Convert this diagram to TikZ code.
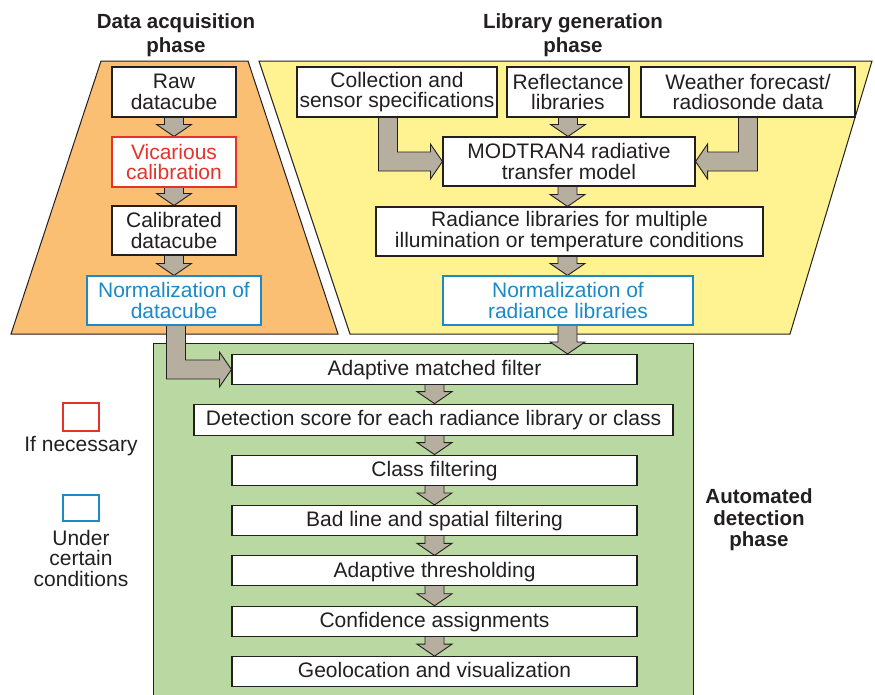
\documentclass[tikz,border=0pt]{standalone}
\usepackage{fontspec}
\setmainfont{Liberation Sans}
\usetikzlibrary{calc}

\pgfdeclarelayer{panels}
\pgfdeclarelayer{flows}
\pgfsetlayers{panels,flows,main}

\definecolor{ink}{HTML}{231F20}
\definecolor{acqfill}{HTML}{FABF72}
\definecolor{libfill}{HTML}{FEF390}
\definecolor{detfill}{HTML}{BAD8A2}
\definecolor{flowfill}{HTML}{B6AF9F}
\definecolor{optred}{HTML}{E4332A}
\definecolor{optblue}{HTML}{1B8AC6}

% fat arrow geometry: shaft half width, head half width, head length
\newcommand\ArrW{9.5pt}
\newcommand\ArrH{17.5pt}
\newcommand\ArrL{12pt}

% straight fat arrow pointing down, from #1 to the height of #2
\newcommand\ArrDown[2]{%
  \begin{pgfonlayer}{flows}
  \path[fat] let \p1=(#1), \p2=(#2) in
    (\x1-\ArrW,\y1+2pt) -- (\x1-\ArrW,\y2+\ArrL) -- (\x1-\ArrH,\y2+\ArrL) -- (\x1,\y2)
    -- (\x1+\ArrH,\y2+\ArrL) -- (\x1+\ArrW,\y2+\ArrL) -- (\x1+\ArrW,\y1+2pt) -- cycle;
  \end{pgfonlayer}}

% fat arrow going down from #1, then right to #2
\newcommand\ArrElbowR[2]{%
  \begin{pgfonlayer}{flows}
  \path[fat] let \p1=(#1), \p2=(#2) in
    (\x1-\ArrW,\y1+2pt) -- (\x1-\ArrW,\y2-\ArrW) -- (\x2-\ArrL,\y2-\ArrW) -- (\x2-\ArrL,\y2-\ArrH)
    -- (\x2,\y2) -- (\x2-\ArrL,\y2+\ArrH) -- (\x2-\ArrL,\y2+\ArrW) -- (\x1+\ArrW,\y2+\ArrW)
    -- (\x1+\ArrW,\y1+2pt) -- cycle;
  \end{pgfonlayer}}

% fat arrow going down from #1, then left to #2
\newcommand\ArrElbowL[2]{%
  \begin{pgfonlayer}{flows}
  \path[fat] let \p1=(#1), \p2=(#2) in
    (\x1+\ArrW,\y1+2pt) -- (\x1+\ArrW,\y2-\ArrW) -- (\x2+\ArrL,\y2-\ArrW) -- (\x2+\ArrL,\y2-\ArrH)
    -- (\x2,\y2) -- (\x2+\ArrL,\y2+\ArrH) -- (\x2+\ArrL,\y2+\ArrW) -- (\x1-\ArrW,\y2+\ArrW)
    -- (\x1-\ArrW,\y1+2pt) -- cycle;
  \end{pgfonlayer}}

\tikzset{
  fat/.style={fill=flowfill, draw=ink, line width=0.9pt, line join=miter},
  panel/.style={draw=ink, line width=1pt},
  box/.style={draw=ink, line width=1.1pt, fill=white, inner sep=0pt, align=center,
    text=ink, font=\fontsize{21}{20.5}\selectfont},
  bigbox/.style={box, minimum height=49pt},
  slimbox/.style={box, minimum height=30pt, text height=17pt, text depth=4.5pt},
  redbox/.style={draw=optred, text=optred},
  bluebox/.style={draw=optblue, text=optblue},
  phasehead/.style={align=center, text=ink, inner sep=0pt,
    font=\bfseries\fontsize{20.5}{24}\selectfont},
  legendtext/.style={align=center, text=ink, inner sep=0pt,
    font=\fontsize{21}{20.5}\selectfont},
  legendkey/.style={line width=1.1pt, fill=white}
}

\begin{document}
\begin{tikzpicture}[x=1pt,y=1pt]
\useasboundingbox (0,0) rectangle (875,-694);

% ---- phase panels ----
\begin{pgfonlayer}{panels}
  \path[panel, fill=acqfill] (101,-61) -- (248,-61) -- (338,-334) -- (11,-334) -- cycle;
  \path[panel, fill=libfill] (259,-61) -- (872,-61) -- (790,-334) -- (350,-334) -- cycle;
  \path[panel, fill=detfill] (153,-700) -- (153,-343) -- (693,-343) -- (693,-700);
\end{pgfonlayer}

% ---- phase titles ----
\node[phasehead] (hacq) at (176,-35) {Data acquisition\\phase};
\node[phasehead] (hlib) at (573,-35) {Library generation\\phase};
\node[phasehead, font=\bfseries\fontsize{20.5}{21.5}\selectfont] (hdet) at (759,-520)
  {Automated\\detection\\phase};

% ---- data acquisition ----
\node[bigbox, minimum width=124pt, minimum height=50pt] (raw) at (174,-92) {Raw\\datacube};
\node[bigbox, redbox, minimum width=124pt, minimum height=50pt] (vic) at (174,-162) {Vicarious\\calibration};
\node[bigbox, minimum width=124pt] (cal) at (174,-230.5) {Calibrated\\datacube};
\node[bigbox, bluebox, minimum width=174pt] (normd) at (174,-300.5) {Normalization of\\datacube};

% ---- library generation ----
\node[bigbox, minimum width=200pt, minimum height=50pt] (coll) at (397,-92) {Collection and\\sensor specifications};
\node[bigbox, minimum width=122pt, minimum height=50pt] (refl) at (568,-92) {Reflectance\\libraries};
\node[bigbox, minimum width=214pt, minimum height=50pt] (wx) at (748,-92) {Weather forecast/\\radiosonde data};
\node[bigbox, minimum width=252pt] (mod) at (569,-161.5) {MODTRAN4 radiative\\transfer model};
\node[bigbox, minimum width=387pt] (radl) at (569.5,-231.5) {Radiance libraries for multiple\\illumination or temperature conditions};
\node[bigbox, bluebox, minimum width=250pt] (normr) at (568,-300.5) {Normalization of\\radiance libraries};

% ---- automated detection ----
\node[slimbox, minimum width=405pt] (amf) at (434.5,-369.5) {Adaptive matched filter};
\node[slimbox, minimum width=479pt, minimum height=31pt] (det) at (433.5,-419.7) {Detection score for each radiance library or class};
\node[slimbox, minimum width=405pt] (cls) at (434.5,-470.1) {Class filtering};
\node[slimbox, minimum width=405pt] (bad) at (434.5,-520.5) {Bad line and spatial filtering};
\node[slimbox, minimum width=405pt] (thr) at (434.5,-570.9) {Adaptive thresholding};
\node[slimbox, minimum width=405pt] (conf) at (434.5,-621.3) {Confidence assignments};
\node[slimbox, minimum width=405pt] (geo) at (434.5,-671.7) {Geolocation and visualization};

% ---- legend ----
\node[legendkey, draw=optred, minimum width=36pt, minimum height=28pt, inner sep=0pt] (keyred) at (81,-417) {};
\node[legendtext] (txtred) at (81,-446) {If necessary};
\node[legendkey, draw=optblue, minimum width=36pt, minimum height=26pt, inner sep=0pt] (keyblue) at (81,-508) {};
\node[legendtext] (txtblue) at (81,-558) {Under\\certain\\conditions};

% ---- flows: data acquisition ----
\ArrDown{raw.south}{vic.north}
\ArrDown{vic.south}{cal.north}
\ArrDown{cal.south}{normd.north}
\ArrElbowR{$(normd.south)+(2,0)$}{amf.west}

% ---- flows: library generation ----
\ArrElbowR{$(coll.south)+(-9,0)$}{mod.west}
\ArrDown{refl.south}{mod.north}
\ArrElbowL{wx.south}{mod.east}
\ArrDown{$(mod.south)+(-1.5,0)$}{radl.north}
\ArrDown{$(radl.south)+(-2,0)$}{normr.north}
\ArrDown{$(normr.south)+(-0.5,0)$}{amf.north}

% ---- flows: automated detection ----
\ArrDown{amf.south}{det.north}
\ArrDown{$(det.south)+(1,0)$}{cls.north}
\ArrDown{cls.south}{bad.north}
\ArrDown{bad.south}{thr.north}
\ArrDown{thr.south}{conf.north}
\ArrDown{conf.south}{geo.north}
\end{tikzpicture}
\end{document}
